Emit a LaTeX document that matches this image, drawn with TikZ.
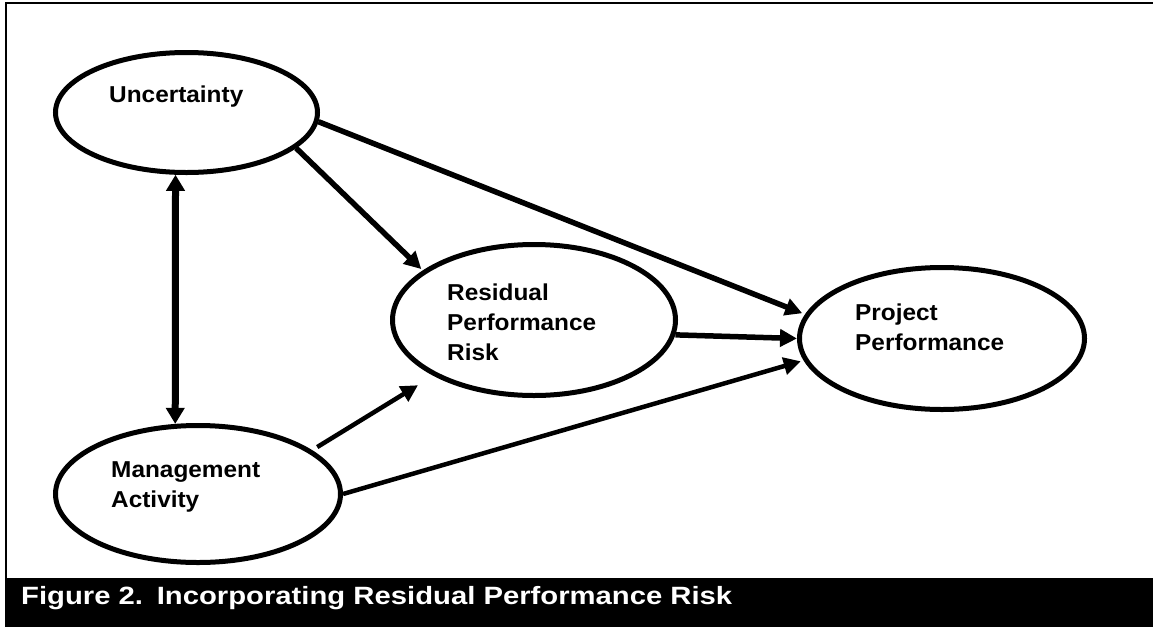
\documentclass[tikz,border=0pt]{standalone}
\usepackage{fontspec}
\setmainfont{Liberation Sans}
\newfontfamily\nodefont[FakeStretch=1.06]{Liberation Sans}
\newfontfamily\capfont[FakeStretch=1.17]{Liberation Sans}
\usetikzlibrary{shapes.geometric,arrows.meta}
\tikzset{
  construct/.style={ellipse, draw=black, line width=5pt, fill=white, inner sep=0pt},
  label text/.style={anchor=base west, inner sep=0pt, font=\nodefont\bfseries\fontsize{23}{30}\selectfont},
  link/.style={line width=5.5pt, -{Triangle[length=17pt,width=17pt]}},
  thinlink/.style={line width=4.5pt, -{Triangle[length=17pt,width=17pt]}},
  twoway/.style={line width=7pt, {Triangle[length=16pt,width=18pt]}-{Triangle[length=16pt,width=18pt]}},
}
\begin{document}
\begin{tikzpicture}[x=1pt,y=-1pt]
\useasboundingbox (0,0) rectangle (1153,627);
\fill[white] (0,0) rectangle (1153,627);
% frame
\draw[line width=2.5pt] (6,578) -- (6,3.2) -- (1153,3.2);
\fill[black] (4.8,578) rectangle (1153,627);
\node[anchor=base west, inner sep=0pt, text=white, font=\capfont\bfseries\fontsize{25}{30}\selectfont] (caption) at (21,604) {Figure 2.\hspace{0.55em}Incorporating Residual Performance Risk};

% constructs
\node[construct, minimum width=262pt, minimum height=120pt] (unc) at (186.5,112.5) {};
\node[construct, minimum width=283pt, minimum height=151pt] (res) at (534,320) {};
\node[construct, minimum width=285pt, minimum height=142pt] (proj) at (942,338.5) {};
\node[construct, minimum width=285pt, minimum height=137pt] (mgmt) at (198,494) {};

\node[label text] (unct) at (109,102) {Uncertainty};
\node[label text] (rest) at (447,300.5) {\vtop{\hbox{Residual}\hbox{Performance}\hbox{Risk}}};
\node[label text] (projt) at (855,320.5) {\vtop{\hbox{Project}\hbox{Performance}}};
\node[label text] (mgmtt) at (111,477) {\vtop{\hbox{Management}\hbox{Activity}}};

% connectors
\draw[twoway] (unc.-100) -- (mgmt.108);
\draw[link, shorten >=2pt] (unc.-18.7) -- (res.156);
\draw[link, shorten >=3pt] (unc.-4) -- (proj.170.7);
\draw[link] (res.-6.7) -- (proj.180);
\draw[thinlink, shorten <=6pt, shorten >=18pt] (mgmt.21) -- (res.209);
\draw[thinlink, shorten >=3pt] (mgmt.0) -- (proj.189.3);
\end{tikzpicture}
\end{document}
